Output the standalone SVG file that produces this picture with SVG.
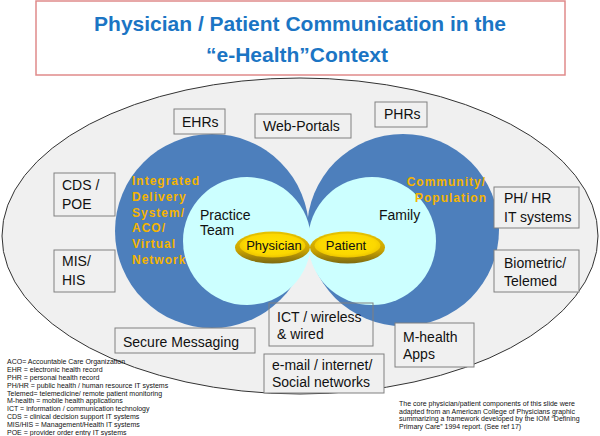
<svg xmlns="http://www.w3.org/2000/svg" width="600" height="436" viewBox="0 0 600 436">
<defs>
<style>
.t{font-family:"Liberation Sans",Arial,sans-serif}
.title{font-family:"Liberation Sans",Arial,sans-serif;font-weight:bold;font-size:21px;fill:#1b75c4;text-anchor:middle}
.box{fill:#f0f0f0;stroke:#808080;stroke-width:1}
.bt{font-family:"Liberation Sans",Arial,sans-serif;font-size:14px;fill:#111}
.or{font-family:"Liberation Sans",Arial,sans-serif;font-weight:bold;font-size:12px;fill:#f5b400;letter-spacing:1px}
.ct{font-family:"Liberation Sans",Arial,sans-serif;font-size:14px;fill:#111}
.gt{font-family:"Liberation Sans",Arial,sans-serif;font-size:13px;fill:#111;text-anchor:middle}
.sm{font-family:"Liberation Sans",Arial,sans-serif;font-size:7px;fill:#111}
.blue{fill:#4d7fbc}
.cyan{fill:#ccffff}
</style>
<linearGradient id="rim" x1="0" y1="0" x2="0" y2="1">
<stop offset="0" stop-color="#e8c400"/>
<stop offset="0.6" stop-color="#c9a200"/>
<stop offset="1" stop-color="#7d6a10"/>
</linearGradient>
<radialGradient id="core" cx="0.5" cy="0.45" r="0.6">
<stop offset="0" stop-color="#ffe400"/>
<stop offset="0.7" stop-color="#fcd800"/>
<stop offset="1" stop-color="#e6bd00"/>
</radialGradient>
</defs>
<g id="title">
<rect x="36" y="1" width="529" height="74" fill="#ffffff" stroke="#e08a8a" stroke-width="1.5"/>
<text class="title" x="300" y="31">Physician / Patient Communication in the</text>
<text class="title" x="297" y="62">“e-Health”Context</text>
</g>
<g id="context">
<ellipse cx="300" cy="236" rx="298" ry="158" fill="#f0f0f0" stroke="#333333" stroke-width="1"/>
</g>
<g id="delivery-system">
<circle class="blue" cx="212" cy="231" r="97"/>
</g>
<g id="community">
<circle class="blue" cx="403" cy="230" r="96"/>
</g>
<g id="practice-team">
<circle class="cyan" cx="247" cy="241" r="64"/>
</g>
<g id="family">
<circle class="cyan" cx="372" cy="241" r="64"/>
</g>
<g id="delivery-label">
<text class="or" x="132" y="185">Integrated</text>
<text class="or" x="132" y="201">Delivery</text>
<text class="or" x="132" y="217">System/</text>
<text class="or" x="132" y="232">ACO/</text>
<text class="or" x="132" y="248">Virtual</text>
<text class="or" x="132" y="264">Network</text>
</g>
<g id="community-label">
<text class="or" x="486" y="186" text-anchor="end">Community/</text>
<text class="or" x="487" y="202" text-anchor="end">Population</text>
</g>
<g id="practice-label">
<text class="ct" x="200" y="220">Practice</text>
<text class="ct" x="200" y="235">Team</text>
</g>
<g id="family-label">
<text class="ct" x="379" y="220">Family</text>
</g>
<g id="physician">
<ellipse cx="272.5" cy="247.5" rx="37.5" ry="16" fill="url(#rim)"/>
<ellipse cx="272.5" cy="245.5" rx="33" ry="12" fill="url(#core)"/>
<text class="gt" x="274" y="250">Physician</text>
</g>
<g id="patient">
<ellipse cx="347.5" cy="247.5" rx="37.5" ry="16" fill="url(#rim)"/>
<ellipse cx="347.5" cy="245.5" rx="33" ry="12" fill="url(#core)"/>
<text class="gt" x="346" y="250">Patient</text>
</g>
<g id="ehrs">
<rect class="box" x="174" y="109" width="51" height="25"/>
<text class="bt" x="182" y="127">EHRs</text>
</g>
<g id="web-portals">
<rect class="box" x="255" y="114" width="96" height="24"/>
<text class="bt" x="263" y="131">Web-Portals</text>
</g>
<g id="phrs">
<rect class="box" x="375" y="102" width="52" height="25"/>
<text class="bt" x="384" y="119">PHRs</text>
</g>
<g id="cds-poe">
<rect class="box" x="54" y="173" width="61" height="43"/>
<text class="bt" x="62" y="190">CDS /</text>
<text class="bt" x="62" y="209">POE</text>
</g>
<g id="mis-his">
<rect class="box" x="54" y="250" width="61" height="42"/>
<text class="bt" x="62" y="266">MIS/</text>
<text class="bt" x="62" y="285">HIS</text>
</g>
<g id="ph-hr">
<rect class="box" x="494" y="187" width="85" height="41"/>
<text class="bt" x="504" y="203">PH/ HR</text>
<text class="bt" x="504" y="222">IT systems</text>
</g>
<g id="biometric">
<rect class="box" x="494" y="250" width="85" height="42"/>
<text class="bt" x="504" y="268">Biometric/</text>
<text class="bt" x="504" y="286">Telemed</text>
</g>
<g id="secure-messaging">
<rect class="box" x="115" y="328" width="140" height="25"/>
<text class="bt" x="123" y="347">Secure Messaging</text>
</g>
<g id="ict">
<rect x="269" y="303" width="104" height="43" fill="none" stroke="#808080" stroke-width="1"/>
<text class="bt" x="277" y="322">ICT / wireless</text>
<text class="bt" x="277" y="339">&amp; wired</text>
</g>
<g id="m-health">
<rect class="box" x="395" y="323" width="79" height="44"/>
<text class="bt" x="403" y="342">M-health</text>
<text class="bt" x="403" y="359">Apps</text>
</g>
<g id="email">
<rect class="box" x="264" y="354" width="120" height="39"/>
<text class="bt" x="272" y="370">e-mail / internet/</text>
<text class="bt" x="272" y="387">Social networks</text>
</g>
<g id="connectors"></g>
<g id="legend">
<text class="sm" x="7" y="364">ACO= Accountable Care Organization</text>
<text class="sm" x="7" y="372">EHR = electronic health record</text>
<text class="sm" x="7" y="380">PHR = personal health record</text>
<text class="sm" x="7" y="388">PH/HR = public health / human resource IT systems</text>
<text class="sm" x="7" y="396">Telemed= telemedicine/ remote patient monitoring</text>
<text class="sm" x="7" y="403">M-health = mobile health applications</text>
<text class="sm" x="7" y="411">ICT = information / communication technology</text>
<text class="sm" x="7" y="419">CDS = clinical decision support IT systems</text>
<text class="sm" x="7" y="427">MIS/HIS = Management/Health IT systems</text>
<text class="sm" x="7" y="435">POE = provider order entry IT systems</text>
</g>
<g id="note">
<text class="sm" x="399" y="406">The core physician/patient components of this slide were</text>
<text class="sm" x="399" y="413.5">adapted from  an American College of Physicians  graphic</text>
<text class="sm" x="399" y="421">summarizing a framework developed by the IOM  “Defining</text>
<text class="sm" x="399" y="428.5">Primary Care” 1994 report. (See ref 17)</text>
</g>
</svg>
